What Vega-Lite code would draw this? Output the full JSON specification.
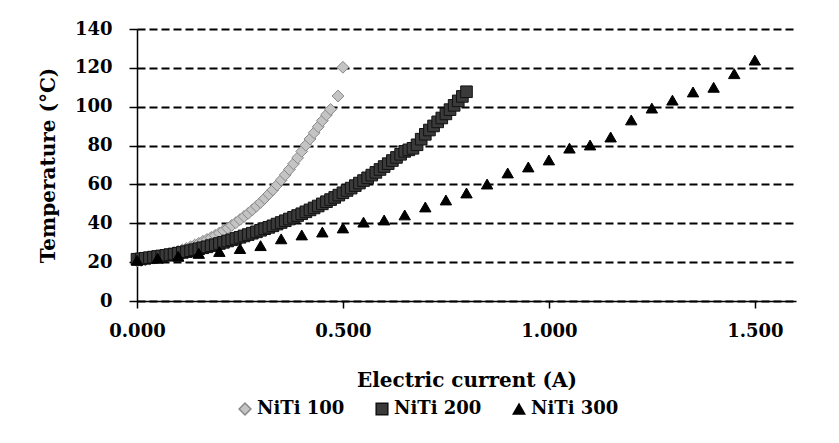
{
  "$schema": "https://vega.github.io/schema/vega-lite/v6.json",
  "width": 659,
  "height": 272,
  "autosize": {"type": "none"},
  "padding": {"left": 137, "top": 29, "right": 43, "bottom": 142},
  "background": "white",
  "config": {
    "view": {"stroke": null},
    "font": "DejaVu Serif"
  },
  "data": {
    "values": [
      {"series": "NiTi 100", "current": 0.00, "temp": 20.5},
      {"series": "NiTi 100", "current": 0.01, "temp": 20.8},
      {"series": "NiTi 100", "current": 0.02, "temp": 21.2},
      {"series": "NiTi 100", "current": 0.03, "temp": 21.6},
      {"series": "NiTi 100", "current": 0.04, "temp": 22.0},
      {"series": "NiTi 100", "current": 0.05, "temp": 22.5},
      {"series": "NiTi 100", "current": 0.06, "temp": 23.0},
      {"series": "NiTi 100", "current": 0.07, "temp": 23.6},
      {"series": "NiTi 100", "current": 0.08, "temp": 24.2},
      {"series": "NiTi 100", "current": 0.09, "temp": 24.9},
      {"series": "NiTi 100", "current": 0.10, "temp": 25.6},
      {"series": "NiTi 100", "current": 0.11, "temp": 26.3},
      {"series": "NiTi 100", "current": 0.12, "temp": 27.1},
      {"series": "NiTi 100", "current": 0.13, "temp": 27.9},
      {"series": "NiTi 100", "current": 0.14, "temp": 28.8},
      {"series": "NiTi 100", "current": 0.15, "temp": 29.7},
      {"series": "NiTi 100", "current": 0.16, "temp": 30.7},
      {"series": "NiTi 100", "current": 0.17, "temp": 31.7},
      {"series": "NiTi 100", "current": 0.18, "temp": 32.7},
      {"series": "NiTi 100", "current": 0.19, "temp": 33.8},
      {"series": "NiTi 100", "current": 0.20, "temp": 35.0},
      {"series": "NiTi 100", "current": 0.21, "temp": 36.2},
      {"series": "NiTi 100", "current": 0.22, "temp": 37.5},
      {"series": "NiTi 100", "current": 0.23, "temp": 38.9},
      {"series": "NiTi 100", "current": 0.24, "temp": 40.3},
      {"series": "NiTi 100", "current": 0.25, "temp": 41.9},
      {"series": "NiTi 100", "current": 0.26, "temp": 43.5},
      {"series": "NiTi 100", "current": 0.27, "temp": 45.1},
      {"series": "NiTi 100", "current": 0.28, "temp": 46.9},
      {"series": "NiTi 100", "current": 0.29, "temp": 48.8},
      {"series": "NiTi 100", "current": 0.30, "temp": 50.7},
      {"series": "NiTi 100", "current": 0.31, "temp": 52.8},
      {"series": "NiTi 100", "current": 0.32, "temp": 55.0},
      {"series": "NiTi 100", "current": 0.33, "temp": 57.2},
      {"series": "NiTi 100", "current": 0.34, "temp": 59.7},
      {"series": "NiTi 100", "current": 0.35, "temp": 62.2},
      {"series": "NiTi 100", "current": 0.36, "temp": 64.9},
      {"series": "NiTi 100", "current": 0.37, "temp": 67.7},
      {"series": "NiTi 100", "current": 0.38, "temp": 70.6},
      {"series": "NiTi 100", "current": 0.39, "temp": 73.7},
      {"series": "NiTi 100", "current": 0.40, "temp": 77.0},
      {"series": "NiTi 100", "current": 0.41, "temp": 80.2},
      {"series": "NiTi 100", "current": 0.42, "temp": 83.4},
      {"series": "NiTi 100", "current": 0.43, "temp": 86.6},
      {"series": "NiTi 100", "current": 0.44, "temp": 89.7},
      {"series": "NiTi 100", "current": 0.45, "temp": 92.8},
      {"series": "NiTi 100", "current": 0.46, "temp": 95.8},
      {"series": "NiTi 100", "current": 0.47, "temp": 98.6},
      {"series": "NiTi 100", "current": 0.488, "temp": 105.5},
      {"series": "NiTi 100", "current": 0.50, "temp": 120.3},
      {"series": "NiTi 200", "current": 0.00, "temp": 21.5},
      {"series": "NiTi 200", "current": 0.01, "temp": 21.7},
      {"series": "NiTi 200", "current": 0.02, "temp": 22.0},
      {"series": "NiTi 200", "current": 0.03, "temp": 22.3},
      {"series": "NiTi 200", "current": 0.04, "temp": 22.6},
      {"series": "NiTi 200", "current": 0.05, "temp": 22.9},
      {"series": "NiTi 200", "current": 0.06, "temp": 23.2},
      {"series": "NiTi 200", "current": 0.07, "temp": 23.5},
      {"series": "NiTi 200", "current": 0.08, "temp": 23.9},
      {"series": "NiTi 200", "current": 0.09, "temp": 24.2},
      {"series": "NiTi 200", "current": 0.10, "temp": 24.6},
      {"series": "NiTi 200", "current": 0.11, "temp": 25.0},
      {"series": "NiTi 200", "current": 0.12, "temp": 25.4},
      {"series": "NiTi 200", "current": 0.13, "temp": 25.9},
      {"series": "NiTi 200", "current": 0.14, "temp": 26.4},
      {"series": "NiTi 200", "current": 0.15, "temp": 26.9},
      {"series": "NiTi 200", "current": 0.16, "temp": 27.4},
      {"series": "NiTi 200", "current": 0.17, "temp": 27.9},
      {"series": "NiTi 200", "current": 0.18, "temp": 28.5},
      {"series": "NiTi 200", "current": 0.19, "temp": 29.0},
      {"series": "NiTi 200", "current": 0.20, "temp": 29.6},
      {"series": "NiTi 200", "current": 0.21, "temp": 30.2},
      {"series": "NiTi 200", "current": 0.22, "temp": 30.9},
      {"series": "NiTi 200", "current": 0.23, "temp": 31.5},
      {"series": "NiTi 200", "current": 0.24, "temp": 32.2},
      {"series": "NiTi 200", "current": 0.25, "temp": 32.8},
      {"series": "NiTi 200", "current": 0.26, "temp": 33.5},
      {"series": "NiTi 200", "current": 0.27, "temp": 34.2},
      {"series": "NiTi 200", "current": 0.28, "temp": 34.9},
      {"series": "NiTi 200", "current": 0.29, "temp": 35.6},
      {"series": "NiTi 200", "current": 0.30, "temp": 36.4},
      {"series": "NiTi 200", "current": 0.31, "temp": 37.2},
      {"series": "NiTi 200", "current": 0.32, "temp": 37.9},
      {"series": "NiTi 200", "current": 0.33, "temp": 38.7},
      {"series": "NiTi 200", "current": 0.34, "temp": 39.6},
      {"series": "NiTi 200", "current": 0.35, "temp": 40.4},
      {"series": "NiTi 200", "current": 0.36, "temp": 41.3},
      {"series": "NiTi 200", "current": 0.37, "temp": 42.2},
      {"series": "NiTi 200", "current": 0.38, "temp": 43.1},
      {"series": "NiTi 200", "current": 0.39, "temp": 44.0},
      {"series": "NiTi 200", "current": 0.40, "temp": 44.9},
      {"series": "NiTi 200", "current": 0.41, "temp": 45.9},
      {"series": "NiTi 200", "current": 0.42, "temp": 46.9},
      {"series": "NiTi 200", "current": 0.43, "temp": 47.9},
      {"series": "NiTi 200", "current": 0.44, "temp": 48.9},
      {"series": "NiTi 200", "current": 0.45, "temp": 50.0},
      {"series": "NiTi 200", "current": 0.46, "temp": 51.1},
      {"series": "NiTi 200", "current": 0.47, "temp": 52.2},
      {"series": "NiTi 200", "current": 0.48, "temp": 53.3},
      {"series": "NiTi 200", "current": 0.49, "temp": 54.5},
      {"series": "NiTi 200", "current": 0.50, "temp": 55.7},
      {"series": "NiTi 200", "current": 0.51, "temp": 56.9},
      {"series": "NiTi 200", "current": 0.52, "temp": 58.1},
      {"series": "NiTi 200", "current": 0.53, "temp": 59.4},
      {"series": "NiTi 200", "current": 0.54, "temp": 60.7},
      {"series": "NiTi 200", "current": 0.55, "temp": 62.0},
      {"series": "NiTi 200", "current": 0.56, "temp": 63.4},
      {"series": "NiTi 200", "current": 0.57, "temp": 64.8},
      {"series": "NiTi 200", "current": 0.58, "temp": 66.2},
      {"series": "NiTi 200", "current": 0.59, "temp": 67.7},
      {"series": "NiTi 200", "current": 0.60, "temp": 69.2},
      {"series": "NiTi 200", "current": 0.61, "temp": 70.7},
      {"series": "NiTi 200", "current": 0.62, "temp": 72.3},
      {"series": "NiTi 200", "current": 0.63, "temp": 73.9},
      {"series": "NiTi 200", "current": 0.64, "temp": 75.5},
      {"series": "NiTi 200", "current": 0.65, "temp": 77.0},
      {"series": "NiTi 200", "current": 0.66, "temp": 77.8},
      {"series": "NiTi 200", "current": 0.67, "temp": 78.6},
      {"series": "NiTi 200", "current": 0.68, "temp": 80.4},
      {"series": "NiTi 200", "current": 0.69, "temp": 83.3},
      {"series": "NiTi 200", "current": 0.70, "temp": 85.8},
      {"series": "NiTi 200", "current": 0.71, "temp": 88.0},
      {"series": "NiTi 200", "current": 0.72, "temp": 90.1},
      {"series": "NiTi 200", "current": 0.73, "temp": 92.2},
      {"series": "NiTi 200", "current": 0.74, "temp": 94.2},
      {"series": "NiTi 200", "current": 0.75, "temp": 96.3},
      {"series": "NiTi 200", "current": 0.76, "temp": 98.5},
      {"series": "NiTi 200", "current": 0.77, "temp": 100.7},
      {"series": "NiTi 200", "current": 0.78, "temp": 103.0},
      {"series": "NiTi 200", "current": 0.79, "temp": 105.3},
      {"series": "NiTi 200", "current": 0.80, "temp": 107.7},
      {"series": "NiTi 300", "current": 0.00, "temp": 21.0},
      {"series": "NiTi 300", "current": 0.05, "temp": 22.0},
      {"series": "NiTi 300", "current": 0.10, "temp": 23.0},
      {"series": "NiTi 300", "current": 0.15, "temp": 24.5},
      {"series": "NiTi 300", "current": 0.20, "temp": 25.5},
      {"series": "NiTi 300", "current": 0.25, "temp": 27.0},
      {"series": "NiTi 300", "current": 0.30, "temp": 28.5},
      {"series": "NiTi 300", "current": 0.35, "temp": 32.0},
      {"series": "NiTi 300", "current": 0.40, "temp": 34.0},
      {"series": "NiTi 300", "current": 0.45, "temp": 35.5},
      {"series": "NiTi 300", "current": 0.50, "temp": 37.6},
      {"series": "NiTi 300", "current": 0.55, "temp": 40.6},
      {"series": "NiTi 300", "current": 0.60, "temp": 41.7},
      {"series": "NiTi 300", "current": 0.65, "temp": 44.3},
      {"series": "NiTi 300", "current": 0.70, "temp": 48.4},
      {"series": "NiTi 300", "current": 0.75, "temp": 52.0},
      {"series": "NiTi 300", "current": 0.80, "temp": 55.6},
      {"series": "NiTi 300", "current": 0.85, "temp": 60.2},
      {"series": "NiTi 300", "current": 0.90, "temp": 65.9},
      {"series": "NiTi 300", "current": 0.95, "temp": 69.0},
      {"series": "NiTi 300", "current": 1.00, "temp": 72.6},
      {"series": "NiTi 300", "current": 1.05, "temp": 78.7},
      {"series": "NiTi 300", "current": 1.10, "temp": 80.3},
      {"series": "NiTi 300", "current": 1.15, "temp": 84.4},
      {"series": "NiTi 300", "current": 1.20, "temp": 93.2},
      {"series": "NiTi 300", "current": 1.25, "temp": 99.3},
      {"series": "NiTi 300", "current": 1.30, "temp": 103.4},
      {"series": "NiTi 300", "current": 1.35, "temp": 107.6},
      {"series": "NiTi 300", "current": 1.40, "temp": 110.0},
      {"series": "NiTi 300", "current": 1.45, "temp": 117.0},
      {"series": "NiTi 300", "current": 1.50, "temp": 124.0}
    ]
  },
  "mark": {"type": "point", "filled": true, "strokeWidth": 1, "opacity": 1},
  "encoding": {
    "x": {
      "field": "current",
      "type": "quantitative",
      "scale": {"domain": [0, 1.6], "nice": false, "zero": true},
      "axis": {
        "title": "Electric current (A)",
        "values": [0, 0.5, 1, 1.5],
        "format": ".3f",
        "grid": false,
        "domainColor": "black",
        "domainWidth": 1.5,
        "tickColor": "black",
        "tickWidth": 1.5,
        "tickSize": 7,
        "labelPadding": 14,
        "labelFont": "DejaVu Serif",
        "labelFontWeight": "bold",
        "labelFontSize": 18,
        "labelColor": "black",
        "labelFlush": false,
        "titleFont": "DejaVu Serif",
        "titleFontWeight": "bold",
        "titleFontSize": 20,
        "titleColor": "black",
        "titlePadding": 30
      }
    },
    "y": {
      "field": "temp",
      "type": "quantitative",
      "scale": {"domain": [0, 140], "nice": false},
      "axis": {
        "title": "Temperature  (°C)",
        "values": [0, 20, 40, 60, 80, 100, 120, 140],
        "grid": true,
        "gridColor": "black",
        "gridDash": [8, 4],
        "gridWidth": 1.8,
        "domainColor": "black",
        "domainWidth": 1.5,
        "tickColor": "black",
        "tickWidth": 1.5,
        "tickSize": 8,
        "labelPadding": 17,
        "labelFont": "DejaVu Serif",
        "labelFontWeight": "bold",
        "labelFontSize": 18,
        "labelColor": "black",
        "labelFlush": false,
        "titleFont": "DejaVu Serif",
        "titleFontWeight": "bold",
        "titleFontSize": 20,
        "titleColor": "black",
        "titlePadding": 16
      }
    },
    "fill": {
      "field": "series",
      "type": "nominal",
      "scale": {"domain": ["NiTi 100", "NiTi 200", "NiTi 300"], "range": ["#c4c4c4", "#3a3a3a", "#000000"]},
      "legend": {
        "title": null,
        "orient": "none",
        "direction": "horizontal",
        "legendX": 99,
        "legendY": 371,
        "columnPadding": 28,
        "labelFont": "DejaVu Serif",
        "labelFontWeight": "bold",
        "labelFontSize": 18,
        "labelColor": "black",
        "labelOffset": 3,
        "padding": 0
      }
    },
    "stroke": {
      "field": "series",
      "type": "nominal",
      "scale": {"domain": ["NiTi 100", "NiTi 200", "NiTi 300"], "range": ["#888888", "#111111", "#000000"]}
    },
    "shape": {
      "field": "series",
      "type": "nominal",
      "scale": {"domain": ["NiTi 100", "NiTi 200", "NiTi 300"], "range": ["diamond", "square", "triangle-up"]}
    },
    "size": {
      "field": "series",
      "type": "nominal",
      "scale": {"domain": ["NiTi 100", "NiTi 200", "NiTi 300"], "range": [140, 130, 150]}
    }
  }
}
